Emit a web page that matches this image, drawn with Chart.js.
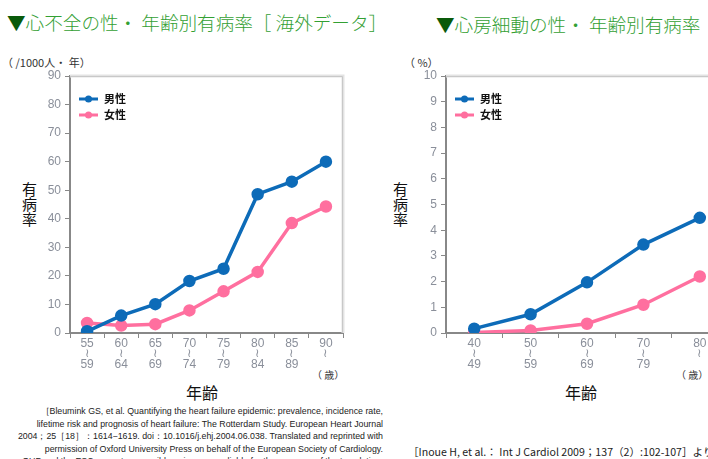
<!DOCTYPE html>
<html>
<head>
<meta charset="utf-8">
<script src="https://cdn.jsdelivr.net/npm/chart.js@4"></script>
<style>
    body { margin: 0; width: 708px; height: 459px; overflow: hidden; background: #fff; position: relative;
           font-family: "Noto Sans CJK JP", "Liberation Sans", sans-serif; }
    .abs { position: absolute; white-space: nowrap; }
    .title { font-size: 18.6px; line-height: 18px; color: #33a033; font-weight: 300; }
    .title span { color: #0a5a0a; }
    .unit { font-size: 11px; line-height: 12px; color: #333; }
    .ytitle { font-size: 15px; line-height: 15px; color: #111; text-align: center; }
    .xtitle { font-size: 16px; color: #111; }
    .age { font-size: 10px; color: #333; }
    .ref { font-family: "Liberation Sans", sans-serif; font-size: 8.8px; line-height: 12.6px; color: #222; text-align: right; }
    .ref2 { font-size: 10.6px; color: #222; }
    canvas { position: absolute; }
</style>
</head>
<body>
<div class="abs title" style="left:7px; top:13px;"><span>▼</span>心不全の性・ 年齢別有病率［ 海外データ］</div>
<div class="abs title" style="left:436px; top:15px;"><span>▼</span>心房細動の性・ 年齢別有病率</div>
<div class="abs unit" style="left:2px; top:56px;">（ /1000人・ 年）</div>
<div class="abs unit" style="left:404px; top:56px;">（ %）</div>
<div class="abs ytitle" style="left:22px; top:181px;">有<br>病<br>率</div>
<div class="abs ytitle" style="left:393px; top:181px;">有<br>病<br>率</div>
<div class="abs xtitle" style="left:186px; top:380px;">年齢</div>
<div class="abs xtitle" style="left:565px; top:380px;">年齢</div>
<div class="abs age" style="left:312px; top:367px;">（ 歳）</div>
<div class="abs age" style="left:676px; top:367px;">（ 歳）</div>
<div class="abs ref" style="right:325px; top:405px;">
［Bleumink GS, et al. Quantifying the heart failure epidemic: prevalence, incidence rate,<br>
lifetime risk and prognosis of heart failure: The Rotterdam Study. European Heart Journal<br>
2004；25［18］：1614−1619. doi：10.1016/j.ehj.2004.06.038. Translated and reprinted with<br>
permission of Oxford University Press on behalf of the European Society of Cardiology.<br>
OUP and the ESC are not responsible or in any way liable for the accuracy of the translation.
</div>
<div class="abs ref2" style="left:408px; top:444px;">［Inoue H, et al.： Int J Cardiol 2009；137（2）:102-107］より</div>

<canvas id="hfChart" width="360" height="400" style="left:0; top:0;"></canvas>
<canvas id="afChart" width="360" height="400" style="left:376px; top:0;"></canvas>

<script>
// Heart failure prevalence (/1000 person-years)
const hfAges = [['55', '≀', '59'], ['60', '≀', '64'], ['65', '≀', '69'], ['70', '≀', '74'],
                ['75', '≀', '79'], ['80', '≀', '84'], ['85', '≀', '89'], ['90', '≀', '']];
const hfMale = [0.6, 6.1, 10.1, 18.2, 22.5, 48.6, 53.0, 60.0];
const hfFemale = [3.5, 2.6, 3.1, 7.9, 14.6, 21.4, 38.5, 44.3];

// Atrial fibrillation prevalence (%)
const afAges = [['40', '≀', '49'], ['50', '≀', '59'], ['60', '≀', '69'], ['70', '≀', '79'], ['80', '≀', '']];
const afMale = [0.17, 0.73, 1.97, 3.44, 4.48];
const afFemale = [0.02, 0.1, 0.36, 1.1, 2.2];

const seriesNames = ['男性', '女性'];
const maleColor = '#0d6bb8';
const femaleColor = '#ff6f9f';

// Draws the shadowed frame on top/right and the legend inside the plot
const framePlugin = {
    id: 'frame',
    beforeDatasetsDraw(chart) {
        const { ctx, chartArea: a } = chart;
        ctx.save();
        ctx.strokeStyle = '#e3e3e3';
        ctx.lineWidth = 3;
        ctx.beginPath();
        ctx.moveTo(a.left, a.top);
        ctx.lineTo(a.right, a.top);
        ctx.lineTo(a.right, a.bottom);
        ctx.stroke();
        ctx.strokeStyle = '#c8c8c8';
        ctx.lineWidth = 1;
        ctx.beginPath();
        ctx.moveTo(a.left, a.top + 0.5);
        ctx.lineTo(a.right - 0.5, a.top + 0.5);
        ctx.lineTo(a.right - 0.5, a.bottom);
        ctx.stroke();
        ctx.restore();
    },
    afterDraw(chart) {
        const { ctx, chartArea: a } = chart;
        ctx.save();
        chart.data.datasets.forEach((ds, i) => {
            const y = a.top + 23 + i * 16;
            const x0 = a.left + 9;
            const x1 = a.left + 28;
            ctx.strokeStyle = ds.borderColor;
            ctx.lineWidth = 3;
            ctx.beginPath();
            ctx.moveTo(x0, y);
            ctx.lineTo(x1, y);
            ctx.stroke();
            ctx.fillStyle = ds.borderColor;
            ctx.beginPath();
            ctx.arc((x0 + x1) / 2, y, 3.5, 0, Math.PI * 2);
            ctx.fill();
            ctx.fillStyle = '#111';
            ctx.font = 'bold 11px "Noto Sans CJK JP", sans-serif';
            ctx.textBaseline = 'middle';
            ctx.fillText(ds.label, x1 + 6, y);
        });
        ctx.restore();
    }
};

function makeChart(id, labels, male, female, yMax, yStep, rightPad) {
    const ctx = document.getElementById(id).getContext('2d');
    const line = (label, data, color) => ({
        label: label,
        data: data,
        borderColor: color,
        backgroundColor: color,
        borderWidth: 3.5,
        pointRadius: 4.5,
        pointHoverRadius: 4.5,
        tension: 0
    });

    return new Chart(ctx, {
        type: 'line',
        data: {
            labels: labels,
            datasets: [
                line(seriesNames[0], male, maleColor),
                line(seriesNames[1], female, femaleColor)
            ]
        },
        options: {
            responsive: false,
            animation: false,
            layout: { padding: { left: 0, top: 76, right: rightPad, bottom: 0 } },
            plugins: { legend: { display: false }, tooltip: { enabled: false } },
            scales: {
                x: {
                    offset: true,
                    grid: { offset: true, drawOnChartArea: false, tickLength: 5, color: '#888' },
                    border: { color: '#888', width: 2 },
                    ticks: {
                        maxRotation: 0,
                        autoSkip: false,
                        color: '#8a8f9a',
                        padding: 0,
                        font: { family: 'Liberation Sans', size: 12, lineHeight: 0.88 }
                    },
                    afterFit(scale) { scale.height = 67; }
                },
                y: {
                    min: 0,
                    max: yMax,
                    ticks: {
                        stepSize: yStep,
                        color: '#8a8f9a',
                        padding: 4,
                        font: { family: 'Liberation Sans', size: 12 }
                    },
                    grid: { drawOnChartArea: false, tickLength: 5, color: '#888' },
                    border: { color: '#888', width: 2 },
                    afterFit(scale) { scale.width = 70; }
                }
            }
        },
        plugins: [framePlugin]
    });
}

makeChart('hfChart', hfAges, hfMale, hfFemale, 90, 10, 17);
makeChart('afChart', afAges, afMale, afFemale, 10, 1, 0);
</script>
</body>
</html>
